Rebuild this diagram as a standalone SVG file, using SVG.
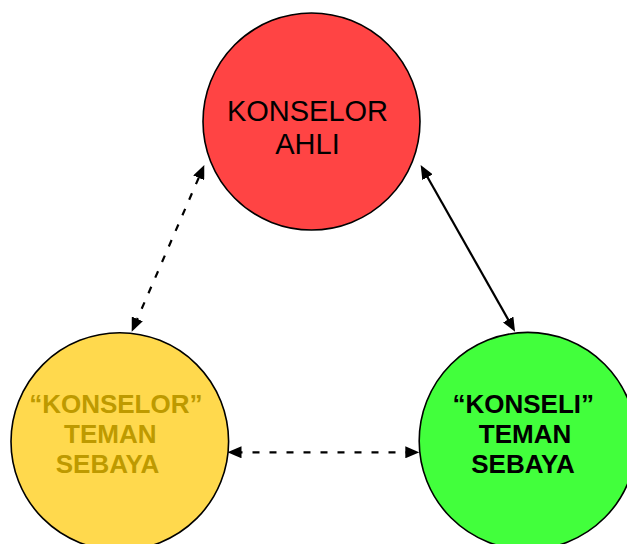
<svg xmlns="http://www.w3.org/2000/svg" width="627" height="544" viewBox="0 0 627 544">
  <style>
    .node { stroke: #000; stroke-width: 1.6; }
    .conn { stroke: #000; stroke-width: 2.2; fill: none; }
    .dash { stroke-dasharray: 7 10; }
    .lbl { font-family: "Liberation Sans", Arial, sans-serif; text-anchor: middle; }
    .reg { font-size: 29px; fill: #000; }
    .bold { font-size: 26px; font-weight: bold; }
  </style>
  <defs>
    <marker id="arr" markerUnits="userSpaceOnUse" markerWidth="14" markerHeight="12" viewBox="0 0 14 12" refX="6" refY="6" orient="auto-start-reverse">
      <path d="M0,0 L14,6 L0,12 z" fill="#000"/>
    </marker>
  </defs>
  <rect width="627" height="544" fill="#fff"/>
  <g id="connectors">
    <line class="conn dash" x1="134.9" y1="324.4" x2="201.1" y2="172.3" marker-start="url(#arr)" marker-end="url(#arr)"/>
    <line class="conn" x1="424.6" y1="172.0" x2="511.1" y2="324.7" marker-start="url(#arr)" marker-end="url(#arr)"/>
    <line class="conn dash" x1="235.5" y1="452.3" x2="411.3" y2="452.3" marker-start="url(#arr)" marker-end="url(#arr)"/>
  </g>
  <g id="konselor-ahli">
    <circle class="node" cx="311.5" cy="121.5" r="108.5" fill="#FF4444"/>
    <text class="lbl reg" x="307.5" y="120.7">KONSELOR</text>
    <text class="lbl reg" x="307.5" y="154">AHLI</text>
  </g>
  <g id="konselor-teman-sebaya">
    <circle class="node" cx="119.8" cy="441.5" r="108.8" fill="#FFD94D"/>
    <text class="lbl bold" x="115.8" y="413.3" fill="#BE9A00">“KONSELOR”</text>
    <text class="lbl bold" x="110.3" y="443.3" fill="#BE9A00">TEMAN</text>
    <text class="lbl bold" x="107.5" y="473.3" fill="#BE9A00">SEBAYA</text>
  </g>
  <g id="konseli-teman-sebaya">
    <circle class="node" cx="527.8" cy="441" r="108.6" fill="#42FF3C"/>
    <text class="lbl bold" x="523.3" y="413.3" fill="#000">“KONSELI”</text>
    <text class="lbl bold" x="525" y="443.3" fill="#000">TEMAN</text>
    <text class="lbl bold" x="523" y="473.3" fill="#000">SEBAYA</text>
  </g>
</svg>
